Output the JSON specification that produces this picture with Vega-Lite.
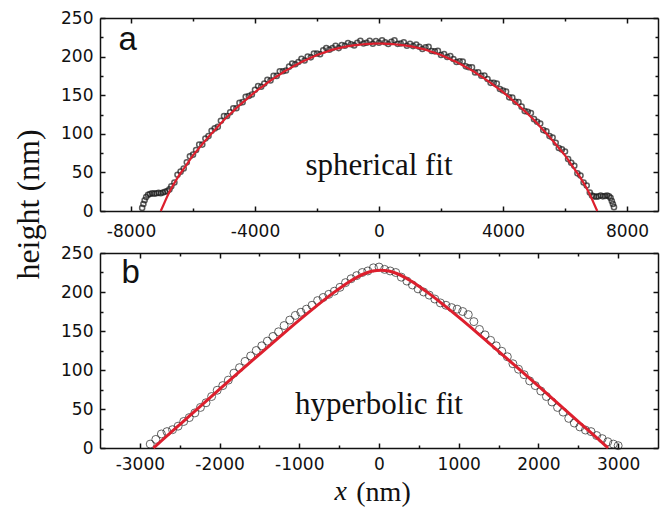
{
  "$schema": "https://vega.github.io/schema/vega-lite/v6.json",
  "background": "white",
  "padding": {"left": 12, "top": 9, "right": 5, "bottom": 5},
  "datasets": {
    "a_points": [
      {"x": -7640, "h": 4}, {"x": -7600, "h": 9}, {"x": -7560, "h": 14}, {"x": -7510, "h": 18}, {"x": -7450, "h": 21},
      {"x": -7390, "h": 22}, {"x": -7320, "h": 23}, {"x": -7250, "h": 22.5}, {"x": -7180, "h": 23}, {"x": -7110, "h": 23.5},
      {"x": -7040, "h": 23}, {"x": -6970, "h": 24}, {"x": -6900, "h": 25}, {"x": -6830, "h": 26}, {"x": -6760, "h": 28},
      {"x": -6700, "h": 32}, {"x": -6600, "h": 37}, {"x": -6500, "h": 47}, {"x": -6400, "h": 51}, {"x": -6300, "h": 55},
      {"x": -6200, "h": 63}, {"x": -6100, "h": 71}, {"x": -6000, "h": 73}, {"x": -5900, "h": 79}, {"x": -5800, "h": 86},
      {"x": -5700, "h": 86}, {"x": -5600, "h": 94}, {"x": -5500, "h": 97}, {"x": -5400, "h": 104}, {"x": -5300, "h": 107},
      {"x": -5200, "h": 109}, {"x": -5100, "h": 117}, {"x": -5000, "h": 123}, {"x": -4900, "h": 123}, {"x": -4800, "h": 128},
      {"x": -4700, "h": 133}, {"x": -4600, "h": 133}, {"x": -4500, "h": 140}, {"x": -4400, "h": 141}, {"x": -4300, "h": 148},
      {"x": -4200, "h": 149}, {"x": -4100, "h": 151}, {"x": -4000, "h": 157}, {"x": -3900, "h": 162}, {"x": -3800, "h": 161},
      {"x": -3700, "h": 165}, {"x": -3600, "h": 170}, {"x": -3500, "h": 169}, {"x": -3400, "h": 175}, {"x": -3300, "h": 175},
      {"x": -3200, "h": 181}, {"x": -3100, "h": 181}, {"x": -3000, "h": 182}, {"x": -2900, "h": 187}, {"x": -2800, "h": 191},
      {"x": -2700, "h": 190}, {"x": -2600, "h": 193}, {"x": -2500, "h": 197}, {"x": -2400, "h": 195}, {"x": -2300, "h": 200},
      {"x": -2200, "h": 199}, {"x": -2100, "h": 204}, {"x": -2000, "h": 204}, {"x": -1900, "h": 203}, {"x": -1800, "h": 208},
      {"x": -1700, "h": 211}, {"x": -1600, "h": 209}, {"x": -1500, "h": 211}, {"x": -1400, "h": 214}, {"x": -1300, "h": 211},
      {"x": -1200, "h": 215}, {"x": -1100, "h": 214}, {"x": -1000, "h": 217.5}, {"x": -900, "h": 216}, {"x": -800, "h": 214.5},
      {"x": -700, "h": 218}, {"x": -600, "h": 220.5}, {"x": -500, "h": 217}, {"x": -400, "h": 218}, {"x": -300, "h": 220.4},
      {"x": -200, "h": 216.6}, {"x": -100, "h": 220}, {"x": 0, "h": 218}, {"x": 100, "h": 221}, {"x": 200, "h": 218.6},
      {"x": 300, "h": 216.4}, {"x": 400, "h": 219.2}, {"x": 500, "h": 221}, {"x": 600, "h": 216.5}, {"x": 700, "h": 217},
      {"x": 800, "h": 218.5}, {"x": 900, "h": 214}, {"x": 1000, "h": 216.5}, {"x": 1100, "h": 213.6}, {"x": 1200, "h": 215.7},
      {"x": 1300, "h": 212.8}, {"x": 1400, "h": 209.9}, {"x": 1500, "h": 212}, {"x": 1600, "h": 212.6}, {"x": 1700, "h": 207.2},
      {"x": 1800, "h": 206.8}, {"x": 1900, "h": 207.4}, {"x": 2000, "h": 202}, {"x": 2100, "h": 203.2}, {"x": 2200, "h": 199.4},
      {"x": 2300, "h": 200.6}, {"x": 2400, "h": 196.8}, {"x": 2500, "h": 193}, {"x": 2600, "h": 193.8}, {"x": 2700, "h": 193.6},
      {"x": 2800, "h": 187.4}, {"x": 2900, "h": 186.2}, {"x": 3000, "h": 186}, {"x": 3100, "h": 179.4}, {"x": 3200, "h": 179.8},
      {"x": 3300, "h": 175.2}, {"x": 3400, "h": 175.6}, {"x": 3500, "h": 171}, {"x": 3600, "h": 166}, {"x": 3700, "h": 166},
      {"x": 3800, "h": 165}, {"x": 3900, "h": 158}, {"x": 4000, "h": 156}, {"x": 4100, "h": 154.6}, {"x": 4200, "h": 147.2},
      {"x": 4300, "h": 146.8}, {"x": 4400, "h": 141.4}, {"x": 4500, "h": 141}, {"x": 4600, "h": 135.2}, {"x": 4700, "h": 129.4},
      {"x": 4800, "h": 128.6}, {"x": 4900, "h": 126.8}, {"x": 5000, "h": 119}, {"x": 5100, "h": 115.6}, {"x": 5200, "h": 113.2},
      {"x": 5300, "h": 104.8}, {"x": 5400, "h": 103.4}, {"x": 5500, "h": 97}, {"x": 5600, "h": 95.2}, {"x": 5700, "h": 88.4},
      {"x": 5800, "h": 81.6}, {"x": 5900, "h": 79.8}, {"x": 6000, "h": 77}, {"x": 6100, "h": 67.2}, {"x": 6200, "h": 62.4},
      {"x": 6300, "h": 58.6}, {"x": 6400, "h": 48.8}, {"x": 6500, "h": 46}, {"x": 6600, "h": 37}, {"x": 6700, "h": 33},
      {"x": 6800, "h": 24}, {"x": 6870, "h": 20}, {"x": 6940, "h": 19}, {"x": 7010, "h": 18.5}, {"x": 7080, "h": 19},
      {"x": 7150, "h": 20}, {"x": 7220, "h": 19}, {"x": 7290, "h": 19.5}, {"x": 7360, "h": 20}, {"x": 7420, "h": 19},
      {"x": 7470, "h": 17}, {"x": 7510, "h": 13}, {"x": 7545, "h": 9}, {"x": 7580, "h": 5}
    ],
    "a_fit": [
      {"x": -7040, "h": 0}, {"x": -7000, "h": 3.6}, {"x": -6750, "h": 25.5}, {"x": -6500, "h": 43}, {"x": -6250, "h": 57.5},
      {"x": -6000, "h": 72}, {"x": -5750, "h": 84}, {"x": -5500, "h": 96}, {"x": -5250, "h": 107}, {"x": -5000, "h": 118},
      {"x": -4750, "h": 127.5}, {"x": -4500, "h": 137}, {"x": -4250, "h": 145.5}, {"x": -4000, "h": 154}, {"x": -3750, "h": 161.5},
      {"x": -3500, "h": 169}, {"x": -3250, "h": 175.5}, {"x": -3000, "h": 182}, {"x": -2750, "h": 187.5}, {"x": -2500, "h": 193},
      {"x": -2250, "h": 197.5}, {"x": -2000, "h": 202}, {"x": -1750, "h": 205.5}, {"x": -1500, "h": 209}, {"x": -1250, "h": 211.3},
      {"x": -1000, "h": 213.5}, {"x": -750, "h": 214.8}, {"x": -500, "h": 216}, {"x": -250, "h": 216.5}, {"x": 0, "h": 217},
      {"x": 250, "h": 216.5}, {"x": 500, "h": 216}, {"x": 750, "h": 214.8}, {"x": 1000, "h": 213.5}, {"x": 1250, "h": 211.3},
      {"x": 1500, "h": 209}, {"x": 1750, "h": 205.5}, {"x": 2000, "h": 202}, {"x": 2250, "h": 197.5}, {"x": 2500, "h": 193},
      {"x": 2750, "h": 187.5}, {"x": 3000, "h": 182}, {"x": 3250, "h": 175.5}, {"x": 3500, "h": 169}, {"x": 3750, "h": 161.5},
      {"x": 4000, "h": 154}, {"x": 4250, "h": 145.5}, {"x": 4500, "h": 137}, {"x": 4750, "h": 127.5}, {"x": 5000, "h": 118},
      {"x": 5250, "h": 107}, {"x": 5500, "h": 96}, {"x": 5750, "h": 84}, {"x": 6000, "h": 72}, {"x": 6250, "h": 57.5},
      {"x": 6500, "h": 43}, {"x": 6750, "h": 25.5}, {"x": 7000, "h": 3.6}, {"x": 7040, "h": 0}
    ],
    "b_points": [
      {"x": -2870, "h": 5}, {"x": -2800, "h": 11}, {"x": -2730, "h": 18}, {"x": -2660, "h": 21}, {"x": -2590, "h": 23.5},
      {"x": -2520, "h": 28}, {"x": -2450, "h": 34}, {"x": -2380, "h": 39}, {"x": -2310, "h": 45}, {"x": -2240, "h": 52},
      {"x": -2170, "h": 58}, {"x": -2100, "h": 66}, {"x": -2030, "h": 74}, {"x": -1960, "h": 80}, {"x": -1890, "h": 87},
      {"x": -1820, "h": 96}, {"x": -1750, "h": 103}, {"x": -1680, "h": 111}, {"x": -1610, "h": 118}, {"x": -1540, "h": 125},
      {"x": -1470, "h": 131}, {"x": -1400, "h": 137}, {"x": -1330, "h": 143}, {"x": -1260, "h": 149}, {"x": -1190, "h": 157},
      {"x": -1120, "h": 164}, {"x": -1050, "h": 170}, {"x": -980, "h": 174}, {"x": -910, "h": 178}, {"x": -840, "h": 183},
      {"x": -770, "h": 189}, {"x": -700, "h": 193}, {"x": -630, "h": 197}, {"x": -560, "h": 201}, {"x": -490, "h": 206},
      {"x": -420, "h": 212}, {"x": -350, "h": 217}, {"x": -280, "h": 221}, {"x": -210, "h": 225}, {"x": -140, "h": 227},
      {"x": -70, "h": 231}, {"x": 0, "h": 232}, {"x": 70, "h": 229}, {"x": 140, "h": 227}, {"x": 210, "h": 225},
      {"x": 280, "h": 219}, {"x": 350, "h": 214}, {"x": 420, "h": 209}, {"x": 490, "h": 204}, {"x": 560, "h": 200},
      {"x": 630, "h": 196}, {"x": 700, "h": 191}, {"x": 770, "h": 186}, {"x": 840, "h": 183}, {"x": 910, "h": 180},
      {"x": 980, "h": 178}, {"x": 1050, "h": 175}, {"x": 1120, "h": 171}, {"x": 1190, "h": 162}, {"x": 1260, "h": 152},
      {"x": 1330, "h": 145}, {"x": 1400, "h": 138}, {"x": 1470, "h": 131}, {"x": 1540, "h": 124}, {"x": 1610, "h": 117},
      {"x": 1680, "h": 108}, {"x": 1750, "h": 101}, {"x": 1820, "h": 94}, {"x": 1890, "h": 86}, {"x": 1960, "h": 80},
      {"x": 2030, "h": 73}, {"x": 2100, "h": 66}, {"x": 2170, "h": 59}, {"x": 2240, "h": 52}, {"x": 2310, "h": 46},
      {"x": 2380, "h": 38}, {"x": 2450, "h": 32}, {"x": 2520, "h": 27}, {"x": 2590, "h": 23}, {"x": 2660, "h": 21},
      {"x": 2730, "h": 16}, {"x": 2800, "h": 12}, {"x": 2870, "h": 8}, {"x": 2940, "h": 5}, {"x": 3000, "h": 3}
    ],
    "b_fit": [
      {"x": -2830, "h": 0}, {"x": -2728, "h": 9.3}, {"x": -2478, "h": 32}, {"x": -2228, "h": 54.7}, {"x": -1978, "h": 77.3},
      {"x": -1728, "h": 99.7}, {"x": -1478, "h": 122}, {"x": -1228, "h": 144.1}, {"x": -978, "h": 165.8}, {"x": -778, "h": 182.5},
      {"x": -578, "h": 198.5}, {"x": -478, "h": 205.9}, {"x": -378, "h": 212.8}, {"x": -278, "h": 218.8}, {"x": -178, "h": 223.7},
      {"x": -78, "h": 226.9}, {"x": 22, "h": 228}, {"x": 122, "h": 226.9}, {"x": 222, "h": 223.7}, {"x": 322, "h": 218.8},
      {"x": 422, "h": 212.8}, {"x": 522, "h": 205.9}, {"x": 622, "h": 198.5}, {"x": 822, "h": 182.5}, {"x": 1022, "h": 165.8},
      {"x": 1272, "h": 144.1}, {"x": 1522, "h": 122}, {"x": 1772, "h": 99.7}, {"x": 2022, "h": 77.3}, {"x": 2272, "h": 54.7},
      {"x": 2522, "h": 32}, {"x": 2772, "h": 9.3}, {"x": 2874, "h": 0}
    ]
  },
  "vconcat": [
    {
      "width": 558,
      "height": 193,
      "layer": [
        {
          "data": {"name": "a_points"},
          "mark": {"type": "point", "filled": false, "size": 26, "strokeWidth": 1.5, "color": "#1a1a1a"},
          "encoding": {
            "x": {"field": "x", "type": "quantitative", "scale": {"domain": [-9000, 9000], "nice": false, "zero": false},
              "axis": {"orient": "bottom", "values": [-8000, -4000, 0, 4000, 8000], "tickSize": -5, "labelPadding": 17, "title": null}},
            "y": {"field": "h", "type": "quantitative", "scale": {"domain": [0, 250], "nice": false},
              "axis": {"orient": "left", "values": [0, 50, 100, 150, 200, 250], "tickSize": -5, "labelPadding": 12,
                "title": "height (nm)", "titleX": -62, "titleY": 186, "titleAngle": -90, "titleBaseline": "alphabetic", "titleAlign": "center"}}
          }
        },
        {
          "data": {"name": "a_fit"},
          "mark": {"type": "line", "color": "#dd1f2d", "strokeWidth": 2.2, "interpolate": "monotone"},
          "encoding": {
            "x": {"field": "x", "type": "quantitative",
              "axis": {"orient": "top", "values": [-8000, -4000, 0, 4000, 8000], "tickSize": -5, "labels": false, "title": null}},
            "y": {"field": "h", "type": "quantitative",
              "axis": {"orient": "right", "values": [0, 50, 100, 150, 200, 250], "tickSize": -5, "labels": false, "title": null}}
          }
        },
        {
          "data": {"values": [{}]},
          "mark": {"type": "text", "text": "spherical fit", "font": "Liberation Serif", "fontSize": 31, "align": "center", "baseline": "alphabetic", "color": "#111"},
          "encoding": {
            "x": {"datum": 0, "type": "quantitative",
              "axis": {"orient": "bottom", "values": [-6000, -2000, 2000, 6000], "tickSize": -3, "labels": false, "domain": false, "title": null}},
            "y": {"datum": 46, "type": "quantitative",
              "axis": {"orient": "left", "values": [25, 75, 125, 175, 225], "tickSize": -3, "labels": false, "domain": false, "title": null}}
          }
        },
        {
          "data": {"values": [{}]},
          "mark": {"type": "text", "text": "a", "font": "Liberation Sans", "fontSize": 33, "align": "left", "baseline": "alphabetic", "color": "#111"},
          "encoding": {
            "x": {"datum": -8400, "type": "quantitative",
              "axis": {"orient": "top", "values": [-6000, -2000, 2000, 6000], "tickSize": -3, "labels": false, "domain": false, "title": null}},
            "y": {"datum": 208, "type": "quantitative",
              "axis": {"orient": "right", "values": [25, 75, 125, 175, 225], "tickSize": -3, "labels": false, "domain": false, "title": null}}
          }
        }
      ],
      "resolve": {"axis": {"x": "independent", "y": "independent"}}
    },
    {
      "width": 558,
      "height": 195,
      "layer": [
        {
          "data": {"name": "b_points"},
          "mark": {"type": "point", "filled": false, "size": 64, "strokeWidth": 1, "color": "#222"},
          "encoding": {
            "x": {"field": "x", "type": "quantitative", "scale": {"domain": [-3500, 3500], "nice": false, "zero": false},
              "axis": {"orient": "bottom", "values": [-3000, -2000, -1000, 0, 1000, 2000, 3000], "tickSize": -5, "labelPadding": 13,
                "title": "(nm)", "titleX": 283, "titleY": 52, "titleBaseline": "alphabetic", "titleAlign": "center", "titleFontSize": 28}},
            "y": {"field": "h", "type": "quantitative", "scale": {"domain": [0, 250], "nice": false},
              "axis": {"orient": "left", "values": [0, 50, 100, 150, 200, 250], "tickSize": -5, "labelPadding": 12, "title": null}}
          }
        },
        {
          "data": {"name": "b_fit"},
          "mark": {"type": "line", "color": "#dd1f2d", "strokeWidth": 3, "interpolate": "monotone"},
          "encoding": {
            "x": {"field": "x", "type": "quantitative",
              "axis": {"orient": "top", "values": [-3000, -2000, -1000, 0, 1000, 2000, 3000], "tickSize": -5, "labels": false, "title": null}},
            "y": {"field": "h", "type": "quantitative",
              "axis": {"orient": "right", "values": [0, 50, 100, 150, 200, 250], "tickSize": -5, "labels": false, "title": null}}
          }
        },
        {
          "data": {"values": [{}]},
          "mark": {"type": "text", "text": "hyperbolic fit", "font": "Liberation Serif", "fontSize": 31, "align": "center", "baseline": "alphabetic", "color": "#111"},
          "encoding": {
            "x": {"datum": 0, "type": "quantitative",
              "axis": {"orient": "bottom", "values": [-2500, -1500, -500, 500, 1500, 2500], "tickSize": -3, "labels": false, "domain": false, "title": null}},
            "y": {"datum": 43, "type": "quantitative",
              "axis": {"orient": "left", "values": [25, 75, 125, 175, 225], "tickSize": -3, "labels": false, "domain": false, "title": null}}
          }
        },
        {
          "data": {"values": [{}]},
          "mark": {"type": "text", "text": "b", "font": "Liberation Sans", "fontSize": 33, "align": "left", "baseline": "alphabetic", "color": "#111"},
          "encoding": {
            "x": {"datum": -3230, "type": "quantitative",
              "axis": {"orient": "top", "values": [-2500, -1500, -500, 500, 1500, 2500], "tickSize": -3, "labels": false, "domain": false, "title": null}},
            "y": {"datum": 211, "type": "quantitative",
              "axis": {"orient": "right", "values": [25, 75, 125, 175, 225], "tickSize": -3, "labels": false, "domain": false, "title": null}}
          }
        },
        {
          "data": {"values": [{}]},
          "mark": {"type": "text", "text": "x", "font": "Liberation Serif", "fontSize": 28, "fontStyle": "italic", "align": "center", "baseline": "alphabetic", "color": "#111"},
          "encoding": {
            "x": {"datum": -480, "type": "quantitative", "axis": null},
            "y": {"datum": -66.7, "type": "quantitative", "axis": null}
          }
        }
      ],
      "resolve": {"axis": {"x": "independent", "y": "independent"}}
    }
  ],
  "spacing": 42,
  "bounds": "flush",
  "config": {
    "view": {"stroke": null},
    "axis": {
      "grid": false, "domainColor": "#111", "domainWidth": 1.5, "tickColor": "#111", "tickWidth": 1.5,
      "labelFont": "DejaVu Sans", "labelFontSize": 17, "labelColor": "#111", "labelOverlap": false, "labelFlush": false,
      "labelExpr": "'' + datum.value",
      "titleColor": "#111", "titleFont": "Liberation Serif", "titleFontSize": 32, "titleFontWeight": "normal"
    }
  }
}
